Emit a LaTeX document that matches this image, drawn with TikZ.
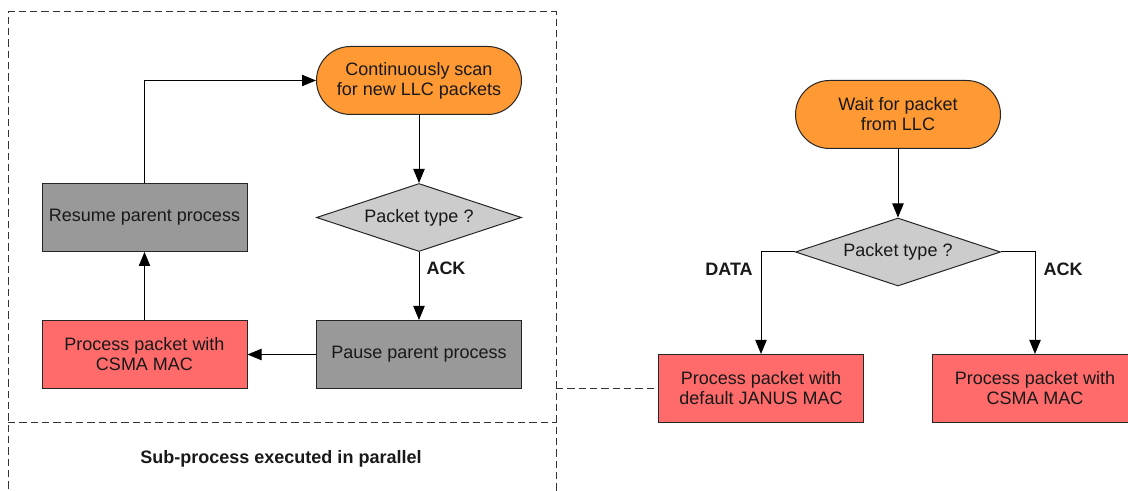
\documentclass[tikz,border=0pt]{standalone}
\usepackage{fontspec}
\setmainfont{Liberation Sans}
\usetikzlibrary{shapes.geometric,arrows.meta}
\definecolor{orangefill}{HTML}{FF9933}
\definecolor{redfill}{HTML}{FF6B6B}
\definecolor{darkgrayfill}{HTML}{999999}
\definecolor{lightgrayfill}{HTML}{CCCCCC}
\definecolor{dashcol}{HTML}{333333}
\begin{document}
\begin{tikzpicture}[x=0.75pt,y=-0.75pt,
  base/.style={draw=black!85, line width=0.75pt, inner sep=0pt, align=center,
    font=\fontsize{13.5}{15}\selectfont, text=black!90,
    minimum width=153.75pt, minimum height=51pt},
  stadium/.style={base, rectangle, rounded corners=25.5pt, fill=orangefill},
  redbox/.style={base, rectangle, fill=redfill},
  graybox/.style={base, rectangle, fill=darkgrayfill},
  decision/.style={base, diamond, aspect=3, fill=lightgrayfill},
  arr/.style={-{Triangle[length=10.5pt,width=8.5pt]}, line width=0.75pt, black},
  lbl/.style={font=\fontsize{13.5}{15}\selectfont\bfseries, text=black!90},
  dashline/.style={dashcol, line width=0.75pt, dash pattern=on 5.5pt off 3pt}]
\useasboundingbox (0,0) rectangle (1128,491);

% dashed sub-process frame
\draw[dashline] (8,500) -- (8,12) -- (556,12) -- (556,500);
\draw[dashline] (8,423) -- (556,423);
\node[lbl] (sub) at (281,459) {Sub-process executed in parallel};

% left (sub-process) flow
\node[stadium] (scan) at (419,80.5) {Continuously scan\\for new LLC packets};
\node[decision] (dec1) at (419,217.5) {Packet type ?};
\node[graybox] (pause) at (419,354.5) {Pause parent process};
\node[redbox] (csma1) at (144.5,354.5) {Process packet with\\CSMA MAC};
\node[graybox] (resume) at (144.5,217.5) {Resume parent process};
\node[lbl] (ack1) at (446,268) {ACK};

\draw[arr] (scan) -- (dec1);
\draw[arr] (dec1) -- (pause);
\draw[arr] (pause) -- (csma1);
\draw[arr] (csma1) -- (resume);
\draw[arr] (resume.north) |- (scan.west);

% right (main) flow
\node[stadium] (wait) at (898,114.5) {Wait for packet\\from LLC};
\node[decision] (dec2) at (898,252) {Packet type ?};
\node[redbox] (janus) at (761,388.5) {Process packet with\\default JANUS MAC};
\node[redbox] (csma2) at (1035,388.5) {Process packet with\\CSMA MAC};
\node[lbl] (data) at (729,269) {DATA};
\node[lbl] (ack2) at (1063,269) {ACK};

\draw[arr] (wait) -- (dec2);
\draw[arr] (dec2.west) -| (janus.north);
\draw[arr] (dec2.east) -| (csma2.north);

% dashed link from frame to JANUS box
\coordinate (frameedge) at (556,388.5);
\draw[dashline] (frameedge) -- (janus.west);
\end{tikzpicture}
\end{document}
